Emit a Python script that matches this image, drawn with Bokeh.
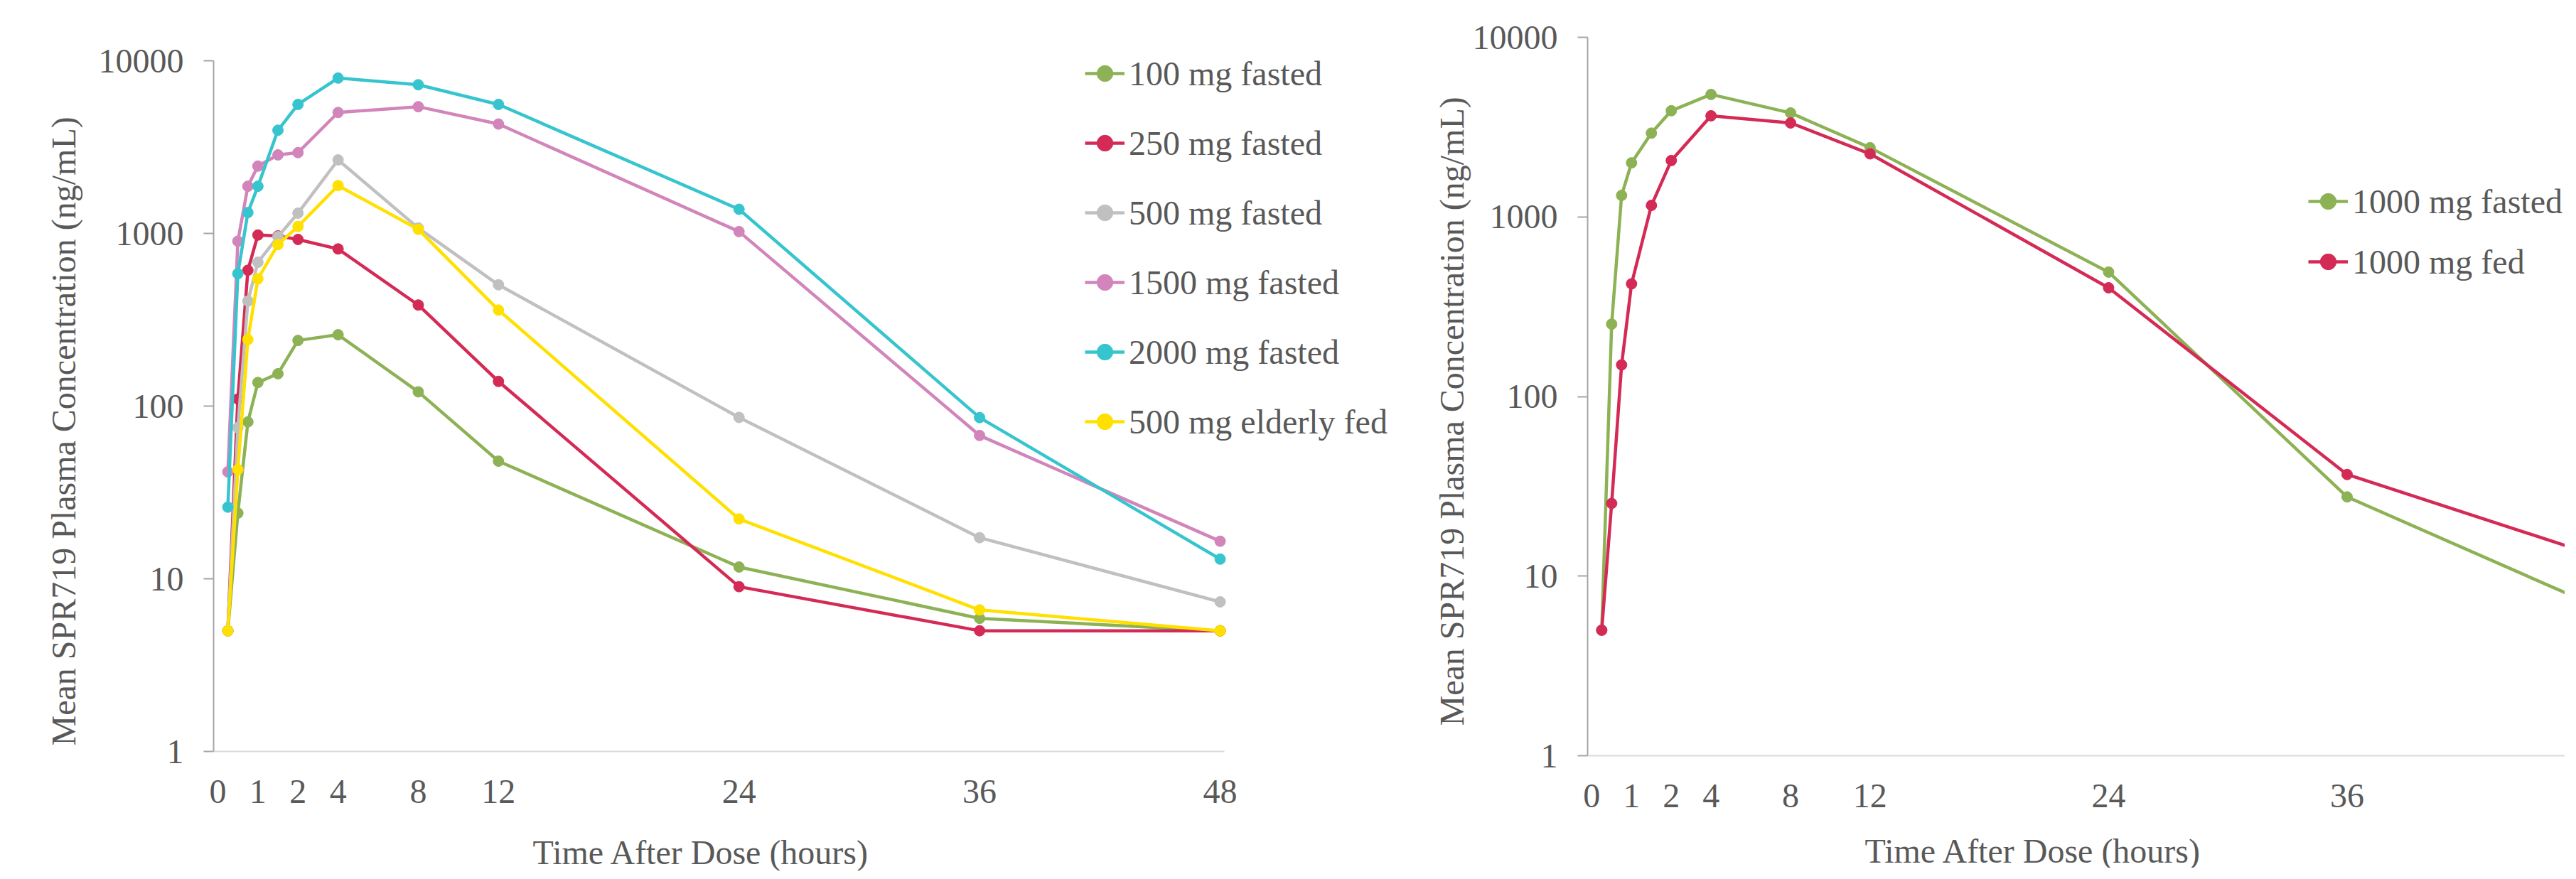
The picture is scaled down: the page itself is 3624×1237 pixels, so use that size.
from bokeh.plotting import figure
from bokeh.models import (Range1d, FixedTicker, NumeralTickFormatter, Legend, LegendItem,
                          Title, LinearAxis)
from bokeh.layouts import row
from bokeh.embed import file_html
from bokeh.resources import INLINE

# ---------------- data ----------------
hours = [0.25, 0.5, 0.75, 1, 1.5, 2, 4, 8, 12, 24, 36, 48]
tick_hours = [0, 1, 2, 4, 8, 12, 24, 36, 48]

labels_left = ["100 mg fasted", "250 mg fasted", "500 mg fasted",
               "1500 mg fasted", "2000 mg fasted", "500 mg elderly fed"]
mg100_fasted = [5, 24, 81, 137, 154, 240, 259, 121, 48, 11.7, 5.9, 5.0]
mg250_fasted = [5, 110, 612, 979, 967, 923, 813, 385, 139, 9.0, 5.0, 5.0]
mg500_fasted = [5, 75, 406, 681, 958, 1311, 2666, 1075, 504, 86, 17.3, 7.35]
mg1500_fasted = [41.6, 902, 1876, 2455, 2850, 2938, 5018, 5420, 4300, 1025, 67.6, 16.5]
mg2000_fasted = [26, 585, 1321, 1876, 3960, 5585, 7940, 7260, 5585, 1380, 85.8, 13.0]
mg500_elderly_fed = [5, 42.9, 243, 546, 862, 1098, 1893, 1057, 360, 22.2, 6.6, 5.0]

labels_right = ["1000 mg fasted", "1000 mg fed"]
mg1000_fasted = [5, 253, 1318, 2000, 2927, 3901, 4808, 3793, 2428, 493, 27.6, 7.2]
mg1000_fed = [5, 25.4, 150, 424, 1159, 2060, 3656, 3336, 2244, 403, 36.8, 13.6]

y_ticks = [1, 10, 100, 1000, 10000]

colors_left = ["#8DB255", "#D42A56", "#C0C0C0", "#D285BA", "#36C5CE", "#FFE000"]
colors_right = ["#8DB255", "#D42A56"]

FONT = "Liberation Serif"
TXT = "#595959"
X_TITLE = "Time After Dose (hours)"
Y_TITLE = "Mean SPR719 Plasma Concentration (ng/mL)"


def axis_pos(t):
    # the time axis is stretched two-fold over the first two hours
    return 2 * t if t <= 2 else t + 2


def make_fig(fw, fh, xr_end, yr_end, mb_left, mb_right, mb_top, mb_bottom,
             x_off, y_off, y_title_standoff, gap, tick_standoff):
    p = figure(frame_width=fw, frame_height=fh, y_axis_type="log",
               x_range=Range1d(-0.21, xr_end), y_range=Range1d(1, yr_end),
               output_backend="svg", toolbar_location=None,
               min_border_left=mb_left, min_border_right=mb_right,
               min_border_top=mb_top, min_border_bottom=mb_bottom)
    p.outline_line_color = None
    p.xgrid.visible = False
    p.ygrid.visible = False
    p.background_fill_color = "white"

    ya = p.yaxis[0]
    ya.bounds = (1, 10000)
    ya.ticker = FixedTicker(ticks=y_ticks)
    ya.formatter = NumeralTickFormatter(format="0")
    ya.axis_line_color = "#A6A6A6"
    ya.axis_line_width = 2
    ya.major_tick_line_color = "#A6A6A6"
    ya.major_tick_line_width = 2
    ya.major_tick_out = 14
    ya.major_tick_in = 0
    ya.minor_tick_line_color = None
    ya.major_label_standoff = 28

    xa = p.xaxis[0]
    xa.bounds = (-0.21, 50.21)
    xa.ticker = FixedTicker(ticks=[axis_pos(t) for t in tick_hours])
    xa.major_label_overrides = {axis_pos(t): str(t) for t in tick_hours}
    xa.axis_line_color = "#D9D9D9"
    xa.axis_line_width = 2
    xa.major_tick_line_color = None
    xa.major_tick_out = 0
    xa.major_tick_in = 0
    xa.minor_tick_line_color = None
    xa.minor_tick_out = 0
    xa.minor_tick_in = 0
    xa.major_label_standoff = tick_standoff

    for ax in (xa, ya):
        ax.major_label_text_font = FONT
        ax.major_label_text_font_size = "48px"
        ax.major_label_text_color = TXT

    # invisible axis used only as vertical room between tick labels and title
    spacer = LinearAxis(ticker=FixedTicker(ticks=[0]), axis_line_color=None,
                        major_tick_line_color=None, minor_tick_line_color=None,
                        major_tick_out=gap, major_tick_in=0, minor_tick_out=0,
                        minor_tick_in=0, major_label_standoff=0,
                        major_label_overrides={0: ""})
    p.add_layout(spacer, "below")

    p.add_layout(Title(text=X_TITLE, align="left", offset=x_off,
                       standoff=0, text_font=FONT,
                       text_font_size="48px", text_font_style="normal",
                       text_color=TXT), "below")
    p.add_layout(Title(text=Y_TITLE, align="left", offset=y_off,
                       standoff=y_title_standoff, text_font=FONT,
                       text_font_size="48px", text_font_style="normal",
                       text_color=TXT), "left")
    return p


def add_series(p, series, labels, colors, loc, spacing):
    xs = [axis_pos(t) for t in hours]
    items = []
    for vals, lab, col in zip(series, labels, colors):
        r1 = p.line(xs, vals, line_color=col, line_width=4.5)
        r2 = p.scatter(xs, vals, size=15, fill_color=col, line_color=col)
        items.append(LegendItem(label=lab, renderers=[r1, r2]))
    leg = Legend(items=items, location=loc, padding=0, margin=0,
                 border_line_color=None, background_fill_alpha=0,
                 label_text_font=FONT, label_text_font_size="48px",
                 label_text_color=TXT, glyph_width=56, glyph_height=56,
                 label_height=56, label_standoff=6, spacing=spacing)
    p.add_layout(leg, "center")


p1 = make_fig(1682, 1005, 59.43, 10 ** (4 + 33 / 243), 300, 10, 52, 164,
              449, 8, 40, 38, 40)
add_series(p1, [mg100_fasted, mg250_fasted, mg500_fasted, mg1500_fasted,
                mg2000_fasted, mg500_elderly_fed],
           labels_left, colors_left, (1226, 436), 42)

p2 = make_fig(1375, 1011, 48.96, 10000, 241, 0, 35, 175,
              390, 42, 0, 30, 40)
add_series(p2, [mg1000_fasted, mg1000_fed], labels_right, colors_right, (1014, 667), 29)

layout = row(p1, p2)
open("out.html", "w").write(file_html(layout, INLINE))
